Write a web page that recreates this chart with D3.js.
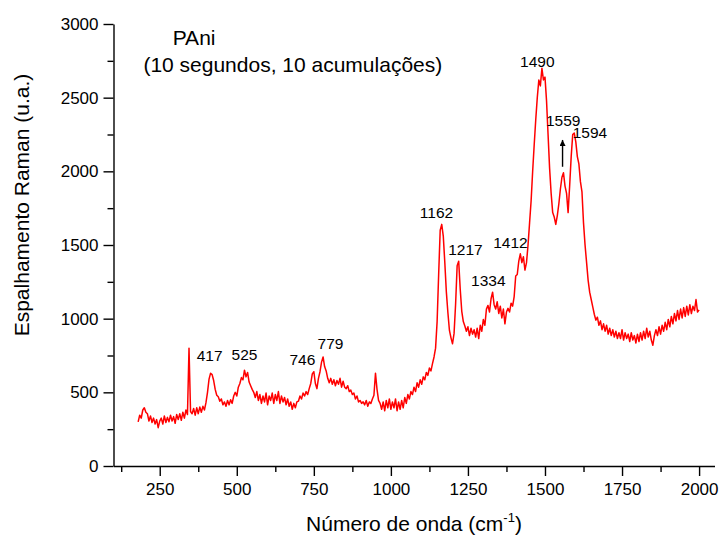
<!DOCTYPE html>
<html><head><meta charset="utf-8">
<script src="https://cdn.jsdelivr.net/npm/d3@7"></script>
<style>body{margin:0;background:#fff} svg{display:block} text{font-family:"Liberation Sans",Arial,sans-serif;fill:#000}</style>
</head><body><svg id="c" width="721" height="538"></svg>
<script>
const wavenumber = [
180,185,190,195,200,205,210,215,220,225,230,235,240,245,250,255,260,265,270,275,
280,285,290,295,300,305,310,315,320,325,330,335,340,345,350,355,360,365,370,375,
380,385,390,395,400,405,410,415,420,425,430,435,440,445,450,455,460,465,470,475,
480,485,490,495,500,505,510,515,520,525,530,535,540,545,550,555,560,565,570,575,
580,585,590,595,600,605,610,615,620,625,630,635,640,645,650,655,660,665,670,675,
680,685,690,695,700,705,710,715,720,725,730,735,740,745,750,755,760,765,770,775,
780,785,790,795,800,805,810,815,820,825,830,835,840,845,850,855,860,865,870,875,
880,885,890,895,900,905,910,915,920,925,930,935,940,945,950,955,960,965,970,975,
980,985,990,995,1000,1005,1010,1015,1020,1025,1030,1035,1040,1045,1050,1055,1060,1065,1070,1075,
1080,1085,1090,1095,1100,1105,1110,1115,1120,1125,1130,1135,1140,1145,1150,1155,1160,1165,1170,1175,
1180,1185,1190,1195,1200,1205,1210,1215,1220,1225,1230,1235,1240,1245,1250,1255,1260,1265,1270,1275,
1280,1285,1290,1295,1300,1305,1310,1315,1320,1325,1330,1335,1340,1345,1350,1355,1360,1365,1370,1375,
1380,1385,1390,1395,1400,1405,1410,1415,1420,1425,1430,1435,1440,1445,1450,1455,1460,1465,1470,1475,
1480,1485,1490,1495,1500,1505,1510,1515,1520,1525,1530,1535,1540,1545,1550,1555,1560,1565,1570,1575,
1580,1585,1590,1595,1600,1605,1610,1615,1620,1625,1630,1635,1640,1645,1650,1655,1660,1665,1670,1675,
1680,1685,1690,1695,1700,1705,1710,1715,1720,1725,1730,1735,1740,1745,1750,1755,1760,1765,1770,1775,
1780,1785,1790,1795,1800,1805,1810,1815,1820,1825,1830,1835,1840,1845,1850,1855,1860,1865,1870,1875,
1880,1885,1890,1895,1900,1905,1910,1915,1920,1925,1930,1935,1940,1945,1950,1955,1960,1965,1970,1975,
1980,1985,1990,1995,2000];
const intensity = [
300,345,325,380,395,365,355,305,340,295,325,285,315,260,305,325,285,340,295,330,
300,345,305,335,290,350,315,355,310,365,325,380,350,800,370,355,390,345,395,355,
400,365,405,380,430,500,590,630,620,580,520,480,470,440,455,415,435,405,445,415,
450,425,475,500,475,535,560,600,585,650,605,635,570,545,520,500,465,505,445,485,
425,475,435,495,415,475,445,495,425,485,445,505,425,475,435,465,415,455,405,435,
385,425,395,435,440,475,455,495,475,505,485,525,560,625,640,560,525,595,640,705,
740,675,645,595,565,595,555,585,545,580,555,595,535,575,535,525,545,505,515,485,
495,455,475,435,445,425,435,415,445,405,435,425,455,480,630,520,445,425,385,435,
375,445,395,455,385,435,395,455,375,435,385,445,395,465,425,485,455,505,485,535,
505,565,535,585,555,605,585,635,615,665,645,695,740,800,980,1300,1600,1640,1560,1380,
1180,1040,920,870,830,900,1100,1360,1390,1200,1050,980,950,915,945,885,935,895,925,875,
935,865,955,915,995,955,1065,1090,1045,1135,1180,1095,1065,1115,1035,1085,1005,1065,965,1045,
1070,1045,1105,1085,1150,1290,1300,1390,1440,1380,1420,1330,1380,1500,1650,1800,2000,2180,2350,2500,
2620,2580,2700,2620,2640,2480,2250,2020,1850,1720,1690,1640,1700,1780,1880,1960,1990,1900,1850,1720,
1900,2100,2250,2260,2200,2100,2050,1930,1860,1650,1500,1380,1260,1180,1130,1080,1030,990,1010,955,
985,925,965,915,955,895,935,885,925,875,915,865,905,865,925,855,905,865,895,845,
905,855,885,835,895,845,905,855,915,865,935,875,915,855,820,885,925,885,945,895,
955,915,975,925,995,945,1015,965,1035,985,1055,995,1065,1005,1075,1015,1085,1025,1095,1035,
1085,1055,1130,1045,1060];

const xTicks = [250,500,750,1000,1250,1500,1750,2000];
const xMinorTicks = [125,375,625,875,1125,1375,1625,1875];
const yTicks = [0,500,1000,1500,2000,2500,3000];
const yMinorTicks = [250,750,1250,1750,2250,2750];

const peakLabels = ["417","525","746","779","1162","1217","1334","1412","1490","1559","1594"];
const peakLabelX = [412,525,713,804,1148,1242,1316,1388,1475,1559,1646];
const peakLabelY = [713,719,685,794,1683,1432,1222,1480,2708,2308,2226];

const arrowX = 1557;
const arrowFromY = 2031;
const arrowToY = 2213;

const titleMain = "PAni";
const titleSub = "(10 segundos, 10 acumulações)";
const titleX = [292, 197];
const titleY = [2857, 2674];

const svg = d3.select("#c");
const x = d3.scaleLinear().domain([100,2050]).range([113.5,714.5]);
const y = d3.scaleLinear().domain([0,3000]).range([466,24]);

// minor ticks
svg.append("g").attr("transform",`translate(0,${y(0)})`)
  .call(d3.axisBottom(x).tickValues(xMinorTicks).tickSize(6).tickSizeOuter(0).tickFormat(""))
  .call(g=>g.select(".domain").remove());
svg.append("g").attr("transform",`translate(${x(100)},0)`)
  .call(d3.axisLeft(y).tickValues(yMinorTicks).tickSize(6).tickSizeOuter(0).tickFormat(""))
  .call(g=>g.select(".domain").remove());

const gx = svg.append("g").attr("transform",`translate(0,${y(0)})`)
  .call(d3.axisBottom(x).tickValues(xTicks).tickSize(10).tickSizeOuter(0).tickPadding(7).tickFormat(d3.format("d")));
const gy = svg.append("g").attr("transform",`translate(${x(100)},0)`)
  .call(d3.axisLeft(y).tickValues(yTicks).tickSize(10).tickSizeOuter(0).tickPadding(5).tickFormat(d3.format("d")));
svg.selectAll(".tick line, .domain").attr("stroke","#000").attr("stroke-width",1.4);
svg.selectAll(".tick text").attr("font-size",17).attr("font-family",'"Liberation Sans",Arial,sans-serif').attr("fill","#000");

// spectrum
const line = d3.line().x((d,i)=>x(wavenumber[i])).y(d=>y(d));
svg.append("path").datum(intensity).attr("d",line)
  .attr("fill","none").attr("stroke","#ff0000").attr("stroke-width",1.5).attr("stroke-linejoin","round");

// peak labels
svg.append("g").selectAll("text").data(peakLabels).join("text")
  .attr("x",(d,i)=>x(peakLabelX[i])).attr("y",(d,i)=>y(peakLabelY[i]))
  .attr("text-anchor","middle").attr("font-size",15.5).text(d=>d);

// arrow
const defs = svg.append("defs");
defs.append("marker").attr("id","ah").attr("viewBox","0 0 10 10").attr("refX",10).attr("refY",5)
  .attr("markerWidth",6).attr("markerHeight",6).attr("markerUnits","userSpaceOnUse").attr("orient","auto")
  .append("path").attr("d","M0,0L10,5L0,10Z").attr("fill","#000");
svg.append("line").attr("x1",x(arrowX)).attr("x2",x(arrowX)).attr("y1",y(arrowFromY)).attr("y2",y(arrowToY))
  .attr("stroke","#000").attr("stroke-width",1.4).attr("marker-end","url(#ah)");

// titles
svg.append("text").attr("x",x(titleX[0])).attr("y",y(titleY[0])).attr("font-size",21).text(titleMain);
svg.append("text").attr("x",x(titleX[1])).attr("y",y(titleY[1])).attr("font-size",21).text(titleSub);

// axis titles
const xt = svg.append("text").attr("x",414).attr("y",531).attr("text-anchor","middle").attr("font-size",21);
xt.append("tspan").text("Número de onda (cm");
xt.append("tspan").attr("font-size",13).attr("dy",-9).text("-1");
xt.append("tspan").attr("dy",9).text(")");
svg.append("text").attr("transform","translate(29,205) rotate(-90)").attr("text-anchor","middle")
  .attr("font-size",21).text("Espalhamento Raman (u.a.)");
</script></body></html>
